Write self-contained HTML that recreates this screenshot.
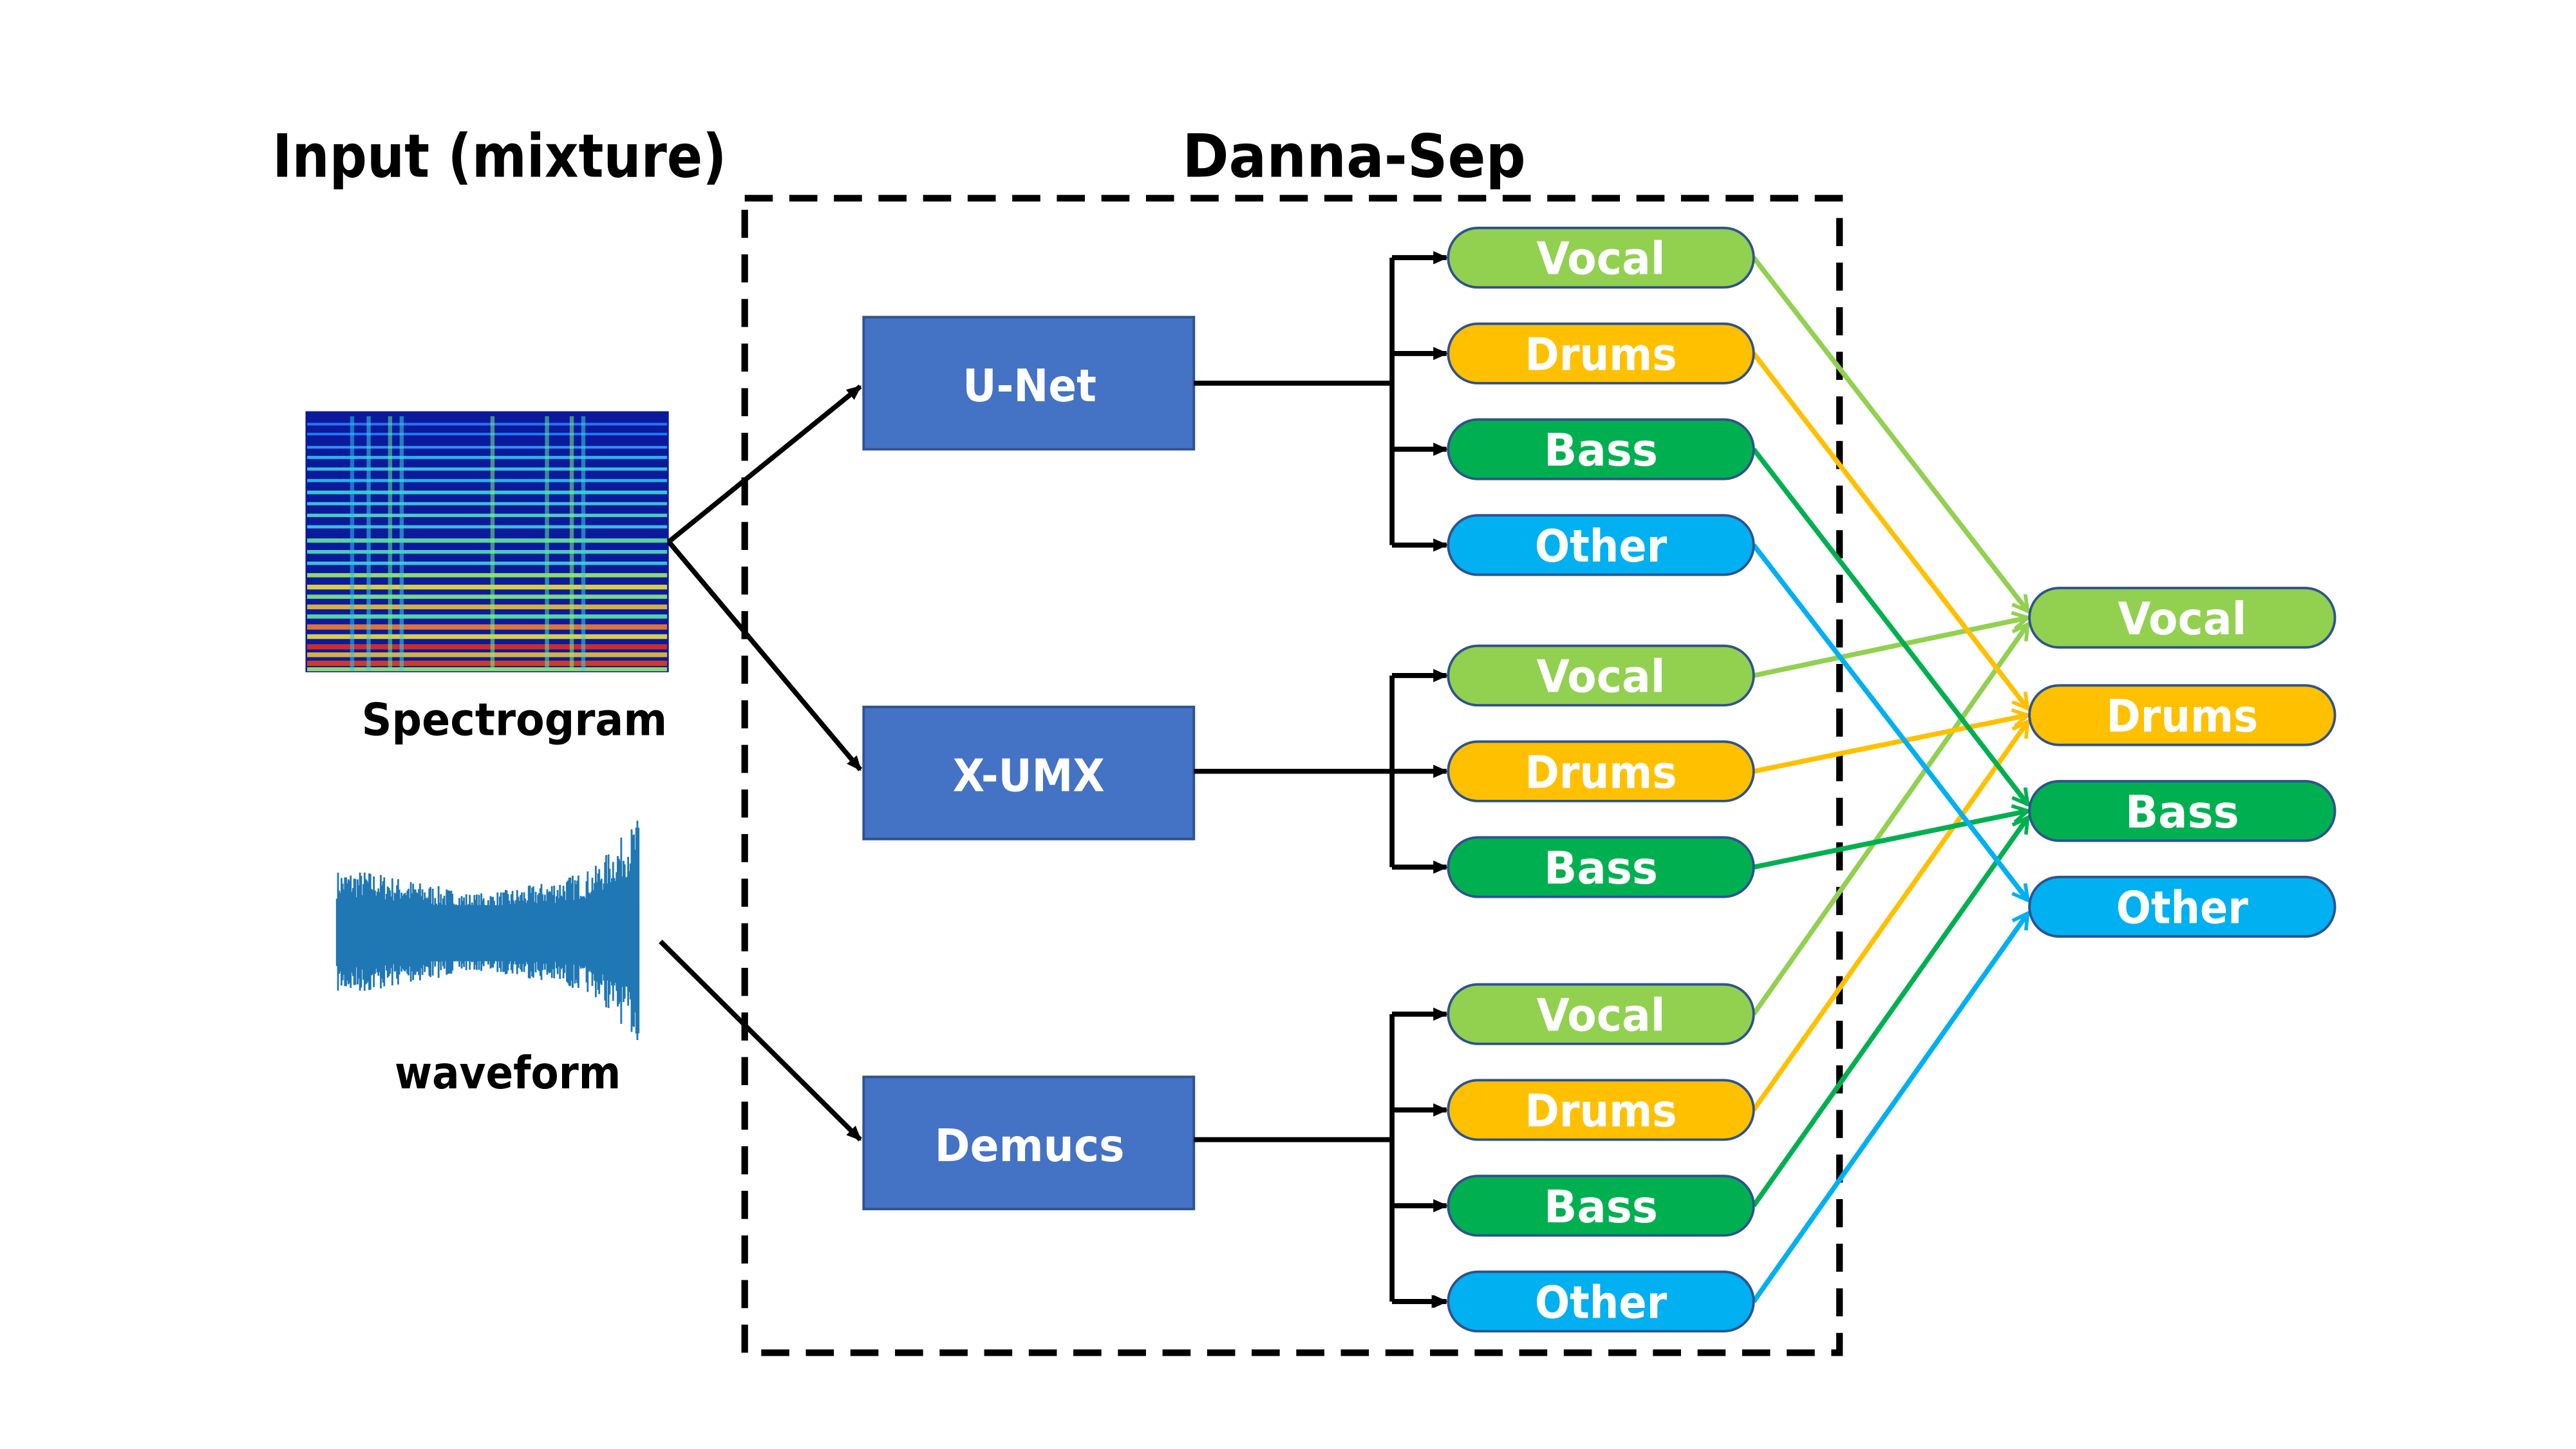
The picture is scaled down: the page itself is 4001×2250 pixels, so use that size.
<!DOCTYPE html>
<html><head><meta charset="utf-8"><style>
html,body{margin:0;padding:0;background:#fff;}
svg{display:block;}
text{font-family:"DejaVu Sans","Liberation Sans",sans-serif;font-weight:bold;}
</style></head><body>
<svg id="s" width="4001" height="2250" viewBox="0 0 1560 877.3" preserveAspectRatio="none" xmlns="http://www.w3.org/2000/svg">
<defs>
<marker id="ab" markerWidth="10" markerHeight="10" refX="8" refY="5" orient="auto" markerUnits="userSpaceOnUse"><path d="M0,1 L9,5 L0,9 Z" fill="#000"/></marker>
<marker id="mv" markerWidth="12" markerHeight="12" refX="10" refY="6" orient="auto" markerUnits="userSpaceOnUse"><path d="M1,1 L10,6 L1,11" fill="none" stroke="#92D050" stroke-width="2.2"/></marker>
<marker id="md" markerWidth="12" markerHeight="12" refX="10" refY="6" orient="auto" markerUnits="userSpaceOnUse"><path d="M1,1 L10,6 L1,11" fill="none" stroke="#FFC000" stroke-width="2.2"/></marker>
<marker id="mb" markerWidth="12" markerHeight="12" refX="10" refY="6" orient="auto" markerUnits="userSpaceOnUse"><path d="M1,1 L10,6 L1,11" fill="none" stroke="#00B050" stroke-width="2.2"/></marker>
<marker id="mo" markerWidth="12" markerHeight="12" refX="10" refY="6" orient="auto" markerUnits="userSpaceOnUse"><path d="M1,1 L10,6 L1,11" fill="none" stroke="#00B0F0" stroke-width="2.2"/></marker>
</defs>
<rect width="1560" height="877.3" fill="#fff"/>
<text x="165" y="107" font-size="36" textLength="275" lengthAdjust="spacingAndGlyphs">Input (mixture)</text>
<text x="716" y="107" font-size="36" textLength="208" lengthAdjust="spacingAndGlyphs">Danna-Sep</text>
<rect x="451" y="120" width="663" height="699" fill="none" stroke="#000" stroke-width="4" stroke-dasharray="17,10"/>
<!-- spectrogram -->
<g id="spec"><rect x="185" y="249" width="220" height="158" fill="#0a1a9a"/></g>
<text x="219" y="445" font-size="27" textLength="185" lengthAdjust="spacingAndGlyphs">Spectrogram</text>
<g id="wave"></g>
<text x="239" y="659" font-size="27" textLength="137" lengthAdjust="spacingAndGlyphs">waveform</text>
<!-- input arrows -->
<g stroke="#000" stroke-width="3" fill="none">
<line x1="405" y1="328" x2="521" y2="234" marker-end="url(#ab)"/>
<line x1="405" y1="328" x2="521" y2="466" marker-end="url(#ab)"/>
<line x1="400" y1="570" x2="521" y2="690" marker-end="url(#ab)"/>
</g>
<!-- model boxes -->
<g fill="#4472C4" stroke="#2F528F" stroke-width="1.5">
<rect x="523" y="192" width="200" height="80"/>
<rect x="523" y="428" width="200" height="80"/>
<rect x="523" y="652" width="200" height="80"/>
</g>
<g fill="#fff" font-size="27">
<text x="583" y="243" textLength="81" lengthAdjust="spacingAndGlyphs">U-Net</text>
<text x="577" y="479" textLength="92" lengthAdjust="spacingAndGlyphs">X-UMX</text>
<text x="566" y="703" textLength="115" lengthAdjust="spacingAndGlyphs">Demucs</text>
</g>
<!-- tree connectors -->
<g stroke="#000" stroke-width="3" fill="none">
<path d="M723,232 H843 M843,156 V330 M843,409 V525 M723,467 H843 M723,690 H843 M843,614 V788"/>
<path d="M843,156 H875 M843,214 H875 M843,272 H875 M843,330 H875 M843,409 H875 M843,467 H875 M843,525 H875 M843,614 H875 M843,672 H875 M843,730 H875 M843,788 H875" marker-end="url(#ab)"/>
</g>
<g stroke-width="3" fill="none">
<line x1="843" y1="156" x2="876" y2="156" stroke="#000" marker-end="url(#ab)"/>
<line x1="843" y1="214" x2="876" y2="214" stroke="#000" marker-end="url(#ab)"/>
<line x1="843" y1="272" x2="876" y2="272" stroke="#000" marker-end="url(#ab)"/>
<line x1="843" y1="330" x2="876" y2="330" stroke="#000" marker-end="url(#ab)"/>
<line x1="843" y1="409" x2="876" y2="409" stroke="#000" marker-end="url(#ab)"/>
<line x1="843" y1="467" x2="876" y2="467" stroke="#000" marker-end="url(#ab)"/>
<line x1="843" y1="525" x2="876" y2="525" stroke="#000" marker-end="url(#ab)"/>
<line x1="843" y1="614" x2="876" y2="614" stroke="#000" marker-end="url(#ab)"/>
<line x1="843" y1="672" x2="876" y2="672" stroke="#000" marker-end="url(#ab)"/>
<line x1="843" y1="730" x2="876" y2="730" stroke="#000" marker-end="url(#ab)"/>
<line x1="843" y1="788" x2="876" y2="788" stroke="#000" marker-end="url(#ab)"/>
</g>
<!-- colored connectors -->
<g stroke-width="3" fill="none">
<line x1="1062" y1="156" x2="1228" y2="370" stroke="#92D050" marker-end="url(#mv)"/>
<line x1="1062" y1="409" x2="1228" y2="374" stroke="#92D050" marker-end="url(#mv)"/>
<line x1="1062" y1="614" x2="1228" y2="378" stroke="#92D050" marker-end="url(#mv)"/>
<line x1="1062" y1="214" x2="1228" y2="429" stroke="#FFC000" marker-end="url(#md)"/>
<line x1="1062" y1="467" x2="1228" y2="433" stroke="#FFC000" marker-end="url(#md)"/>
<line x1="1062" y1="672" x2="1228" y2="437" stroke="#FFC000" marker-end="url(#md)"/>
<line x1="1062" y1="272" x2="1228" y2="487" stroke="#00B050" marker-end="url(#mb)"/>
<line x1="1062" y1="525" x2="1228" y2="491" stroke="#00B050" marker-end="url(#mb)"/>
<line x1="1062" y1="730" x2="1228" y2="495" stroke="#00B050" marker-end="url(#mb)"/>
<line x1="1062" y1="330" x2="1228" y2="545" stroke="#00B0F0" marker-end="url(#mo)"/>
<line x1="1062" y1="788" x2="1228" y2="553" stroke="#00B0F0" marker-end="url(#mo)"/>
</g>
<g id="pills" stroke="#2F528F" stroke-width="1.5"></g>
</svg>
<script>
var NS="http://www.w3.org/2000/svg";
function el(t,a,p){var e=document.createElementNS(NS,t);for(var k in a)e.setAttribute(k,a[k]);p.appendChild(e);return e;}
var col={Vocal:"#92D050",Drums:"#FFC000",Bass:"#00B050",Other:"#00B0F0"};
var tw={Vocal:78,Drums:92,Bass:69,Other:80};
var P=document.getElementById("pills");
function pill(cx,cy,n){
 el("rect",{x:cx-92.5,y:cy-18,width:185,height:36,rx:18,ry:18,fill:col[n]},P);
 var t=el("text",{x:cx-tw[n]/2,y:cy+10,"font-size":27,fill:"#fff",stroke:"none",textLength:tw[n],lengthAdjust:"spacingAndGlyphs"},P);t.textContent=n;
}
var L=969.5;
pill(L,156,"Vocal");pill(L,214,"Drums");pill(L,272,"Bass");pill(L,330,"Other");
pill(L,409,"Vocal");pill(L,467,"Drums");pill(L,525,"Bass");
pill(L,614,"Vocal");pill(L,672,"Drums");pill(L,730,"Bass");pill(L,788,"Other");
var R=1321.5;
pill(R,374,"Vocal");pill(R,433,"Drums");pill(R,491,"Bass");pill(R,549,"Other");
// random
var seed=7;function rnd(){seed=(seed*16807)%2147483647;return seed/2147483647;}
// spectrogram
var S=document.getElementById("spec");
var bands=[[256,"#2a7aff",1],[262,"#2080ff",1],[270,"#30a0ff",1],[276,"#30c0f0",1.2],[283,"#40d0e0",1.2],[290,"#30c0f0",1.2],[297,"#40d8d0",1.4],[304,"#40d0e0",1.2],[311,"#50e0c0",1.3],[318,"#40d0e0",1.2],[326,"#60e8a0",1.6],[333,"#50e0c0",1.4],[340,"#40d0e0",1.3],[347,"#a0f060",1.6],[354,"#f0e040",1.8],[360,"#80f080",1.6],[366,"#f0c030",1.8],[372,"#60e8a0",1.6],[378,"#f08030",2],[384,"#f0e040",1.8],[390,"#e03020",2],[395,"#f0c030",1.8],[400,"#e04020",2],[404,"#a0f060",1.5]];
bands.forEach(function(b){el("rect",{x:186,y:b[0],width:218,height:b[2]*1.6,fill:b[1],opacity:0.9},S);});
[[212,"#30c0f0"],[222,"#40d0e0"],[235,"#60e8a0"],[242,"#40d0e0"],[297,"#80f080"],[330,"#60e8a0"],[345,"#80f080"],[352,"#40d0e0"]].forEach(function(v){el("rect",{x:v[0],y:252,width:2.5,height:154,fill:v[1],opacity:0.55},S);});
// waveform
var W=document.getElementById("wave");var d="";
for(var x=204;x<=387;x+=0.7){
 var f=(x-204)/183;var env=(f<0.1?38:(f<0.45?38-40*(f-0.1):24+60*(f-0.45)*(f-0.2)));
 if(f>0.85)env+=20*(f-0.85)/0.15;
 var a=env*(0.55+0.45*rnd());var c=565;
 d+="M"+x.toFixed(1)+","+(c-a).toFixed(1)+"V"+(c+a*0.95).toFixed(1);
}
el("path",{d:d,stroke:"#1f77b4","stroke-width":1.1,fill:"none"},W);
el("rect",{x:204,y:548,width:183,height:34,fill:"#1f77b4"},W);
</script>
</body></html>
